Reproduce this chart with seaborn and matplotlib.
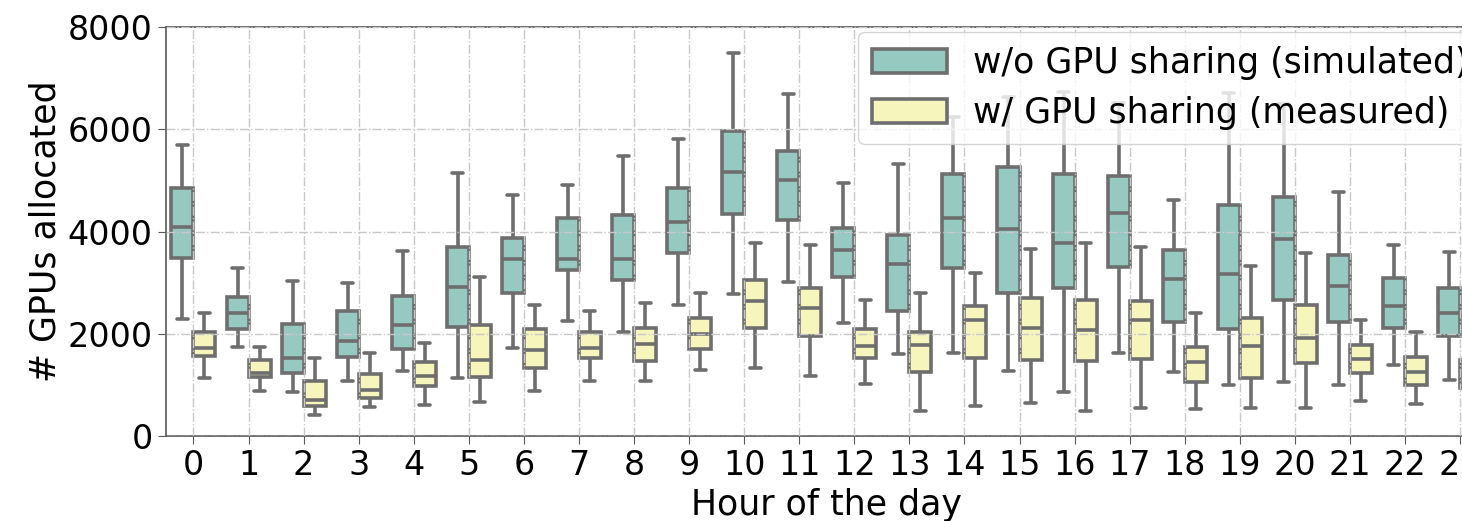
import numpy as np
import pandas as pd
import seaborn as sns
import matplotlib.pyplot as plt

# Hours of the day
hours = list(range(24))
series = ['w/o GPU sharing (simulated)', 'w/ GPU sharing (measured)']

# Box stats: lower whisker, Q1, median, Q3, upper whisker
nosh_lo = [2290, 1750, 870, 1080, 1280, 1130, 1730, 2250, 2040, 2560, 2780, 3020,
           2220, 1600, 1620, 1280, 870, 1630, 1250, 1000, 1060, 1000, 1390, 1100]
nosh_q1 = [3490, 2100, 1230, 1540, 1700, 2140, 2790, 3250, 3060, 3590, 4340, 4220,
           3110, 2440, 3280, 2800, 2900, 3300, 2240, 2090, 2670, 2240, 2120, 1960]
nosh_med = [4080, 2400, 1530, 1860, 2170, 2910, 3460, 3470, 3470, 4190, 5170, 5000,
            3640, 3360, 4270, 4060, 3770, 4370, 3070, 3170, 3850, 2940, 2550, 2410]
nosh_q3 = [4860, 2720, 2190, 2440, 2740, 3700, 3880, 4260, 4330, 4860, 5970, 5570,
           4070, 3930, 5120, 5270, 5120, 5080, 3640, 4520, 4680, 3540, 3100, 2890]
nosh_hi = [5700, 3280, 3030, 2990, 3620, 5150, 4720, 4920, 5470, 5810, 7500, 6690,
           4960, 5330, 6240, 6630, 6730, 6510, 4610, 6710, 6490, 4780, 3730, 3600]

sh_lo = [1130, 880, 410, 560, 610, 670, 880, 1080, 1080, 1290, 1340, 1170,
         1010, 490, 590, 640, 490, 550, 530, 540, 540, 680, 630, 540]
sh_q1 = [1560, 1150, 590, 750, 980, 1150, 1340, 1520, 1470, 1710, 2120, 1960,
         1530, 1250, 1530, 1490, 1470, 1500, 1060, 1130, 1430, 1230, 1000, 940]
sh_med = [1730, 1240, 700, 910, 1170, 1490, 1680, 1730, 1800, 1990, 2640, 2500,
          1760, 1780, 2270, 2120, 2070, 2280, 1450, 1760, 1920, 1500, 1260, 1210]
sh_q3 = [2040, 1490, 1080, 1210, 1450, 2180, 2100, 2030, 2120, 2310, 3060, 2900,
         2100, 2030, 2550, 2700, 2660, 2640, 1750, 2300, 2560, 1790, 1550, 1490]
sh_hi = [2410, 1750, 1530, 1620, 1830, 3110, 2560, 2440, 2610, 2800, 3780, 3730,
         2660, 2790, 3190, 3660, 3780, 3700, 2410, 3320, 3580, 2280, 2030, 1840]

# Build long table: five points per box reproduce the whiskers and quartiles
rows = []
for name, stats in zip(series, [(nosh_lo, nosh_q1, nosh_med, nosh_q3, nosh_hi),
                                (sh_lo, sh_q1, sh_med, sh_q3, sh_hi)]):
    for i, h in enumerate(hours):
        for s in stats:
            rows.append({'hour': h, 'gpus': s[i], 'group': name})
df = pd.DataFrame(rows)

sns.set_style('ticks')
plt.rcParams['font.family'] = ['DejaVu Sans']
plt.rcParams['text.color'] = 'black'
plt.rcParams['axes.labelcolor'] = 'black'

fig = plt.figure(figsize=(14.62, 5.21), dpi=100)
# axes deliberately run past the right edge, as in the cropped original
ax = fig.add_axes([0.1135, 0.163, 0.904, 0.785])

sns.boxplot(data=df, x='hour', y='gpus', hue='group', palette='Set3',
            whis=(0, 100), linewidth=2.6, linecolor='#6e6e6e', ax=ax)

ax.set_ylim(0, 8000)
ax.set_yticks([0, 2000, 4000, 6000, 8000])
ax.set_xlabel('Hour of the day', fontsize=25, labelpad=4)
ax.set_ylabel('# GPUs allocated', fontsize=25)
ax.tick_params(axis='both', labelsize=24, colors='0.35', labelcolor='black', length=6)

for sp in ax.spines.values():
    sp.set_color('0.35')
    sp.set_linewidth(1.2)

ax.grid(True, linestyle='-.', color='#c8c8c8', linewidth=1)
ax.set_axisbelow(False)

sns.move_legend(ax, 'upper right', title=None, fontsize=25, handlelength=2.15,
                handletextpad=0.75, labelspacing=0.45, borderaxespad=0.15,
                borderpad=0.4, framealpha=0.8)

fig.savefig('out.png', dpi=100)
